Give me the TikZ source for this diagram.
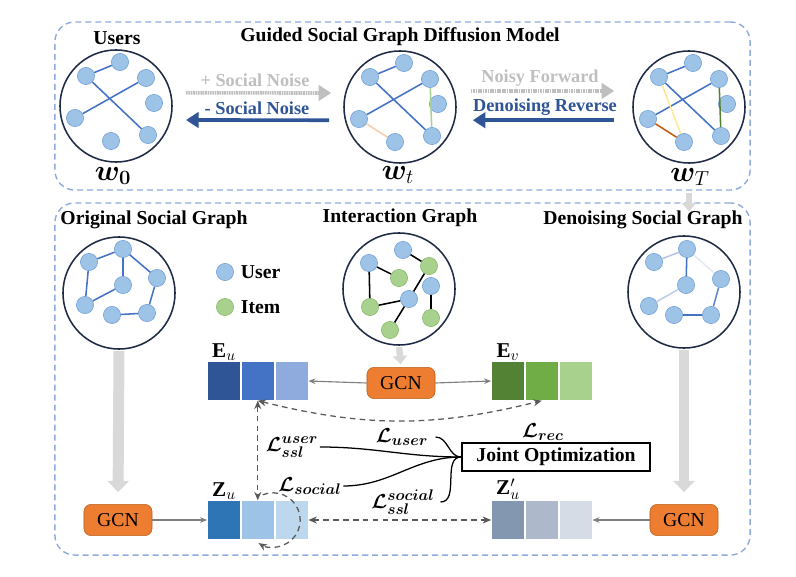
\documentclass[tikz,border=0pt]{standalone}
\usepackage{fontspec}
\setmainfont{Liberation Serif}
\usepackage{amsmath,bm}
\usetikzlibrary{arrows.meta,positioning}

\definecolor{frameblue}{HTML}{8FAADC}
\definecolor{nodeblue}{HTML}{9DC3E6}
\definecolor{nodeblueline}{HTML}{6F9FD8}
\definecolor{nodegreen}{HTML}{A9D18E}
\definecolor{nodegreenline}{HTML}{86B86A}
\definecolor{edgeblue}{HTML}{4472C4}
\definecolor{darkblue}{HTML}{2F5597}
\definecolor{ringnavy}{HTML}{1F2A44}
\definecolor{noisegray}{HTML}{BFBFBF}
\definecolor{gcnorange}{HTML}{ED7D31}
\definecolor{gcnline}{HTML}{B85F1C}
\definecolor{blockgray}{HTML}{D9D9D9}
\definecolor{linkgray}{HTML}{7F7F7F}
\definecolor{dashgray}{HTML}{595959}
\definecolor{eua}{HTML}{2F5597}
\definecolor{eub}{HTML}{4472C4}
\definecolor{euc}{HTML}{8FAADC}
\definecolor{eva}{HTML}{548235}
\definecolor{evb}{HTML}{70AD47}
\definecolor{evc}{HTML}{A9D18E}
\definecolor{zua}{HTML}{2E75B6}
\definecolor{zub}{HTML}{9DC3E6}
\definecolor{zuc}{HTML}{BDD7EE}
\definecolor{zpa}{HTML}{8497B0}
\definecolor{zpb}{HTML}{ADB9CA}
\definecolor{zpc}{HTML}{D6DCE5}
\definecolor{softgreen}{HTML}{A9D18E}
\definecolor{peach}{HTML}{F8CBAD}
\definecolor{deepgreen}{HTML}{548235}
\definecolor{rust}{HTML}{C55A11}
\definecolor{paleyellow}{HTML}{FFE699}

\begin{document}
\begin{tikzpicture}[
    x=0.025cm, y=-0.025cm,
    font=\fontsize{13.5}{16}\selectfont,
    frame/.style={draw=frameblue, line width=1pt, dash pattern=on 4.3pt off 2.8pt,
                  rounded corners=14pt, inner sep=0pt},
    ring/.style={circle, draw=ringnavy, line width=1.1pt, minimum size=2.8cm, inner sep=0pt},
    user/.style={circle, fill=nodeblue, draw=nodeblueline, line width=.4pt,
                 minimum size=.43cm, inner sep=0pt},
    item/.style={user, fill=nodegreen, draw=nodegreenline},
    social/.style={draw=edgeblue, line width=1.1pt},
    inter/.style={draw=black, line width=1.1pt},
    head/.style={font=\fontsize{14}{16}\selectfont\bfseries},
    steplabel/.style={font=\fontsize{13}{15}\selectfont\bfseries},
    wlabel/.style={font=\fontsize{20}{22}\selectfont},
    emb/.style={font=\fontsize{15}{17}\selectfont},
    losslabel/.style={font=\fontsize{15.5}{17}\selectfont, inner sep=1pt},
    gcn/.style={draw=gcnline, fill=gcnorange, rounded corners=5pt, minimum width=1.7cm,
                minimum height=.78cm, inner sep=0pt, font=\fontsize{14}{16}\selectfont},
    cell/.style={minimum width=.83cm, minimum height=.97cm, inner sep=0pt, draw=white, line width=.4pt},
    noise/.style={draw=noisegray, line width=2.6pt, dash pattern=on 1.2pt off .5pt,
                  -{Triangle[length=9pt,width=11pt]}},
    denoise/.style={draw=darkblue, line width=2.6pt, -{Triangle[length=9pt,width=11pt]}},
    feed/.style={draw=blockgray, line width=7.8pt, -{Triangle[length=8pt,width=15pt]}},
    smallfeed/.style={draw=blockgray, line width=4.5pt, -{Triangle[length=6pt,width=10pt]}},
    link/.style={draw=linkgray, line width=.8pt, -{Stealth[length=5pt,width=4pt]}},
    dlink/.style={draw=dashgray, line width=.9pt, dash pattern=on 4pt off 3pt,
                  {Stealth[length=6pt,width=5pt]}-{Stealth[length=6pt,width=5pt]}},
    loss/.style={draw=black, line width=.9pt}
  ]
  \useasboundingbox (0,0) rectangle (796,577);

  % Frames.
  \node[frame, minimum width=17.375cm, minimum height=4.2cm] (topframe) at (402.5,106) {};
  \node[frame, minimum width=17.375cm, minimum height=8.8cm] (botframe) at (402.5,379) {};

  % Diffusion model (top).
  \node[head] (title) at (400,37) {Guided Social Graph Diffusion Model};
  \node[head] (users) at (117,38) {Users};

  \node[ring] (w0) at (116,106) {};
  \node[user] (w0a) at (86,76) {};
  \node[user] (w0b) at (120,62) {};
  \node[user] (w0c) at (146,78) {};
  \node[user] (w0d) at (154,103) {};
  \node[user] (w0e) at (75,118) {};
  \node[user] (w0f) at (111,141) {};
  \node[user] (w0g) at (148,135) {};
  \draw[social] (w0a) -- (w0b);
  \draw[social] (w0a) -- (w0g);
  \draw[social] (w0e) -- (w0c);
  \node[wlabel] (w0lab) at (113,176) {$\bm{w}_{\bm{0}}$};

  \node[ring] (wt) at (400,107) {};
  \node[user] (wta) at (370,77) {};
  \node[user] (wtb) at (404,63) {};
  \node[user] (wtc) at (430,79) {};
  \node[user] (wtd) at (438,104) {};
  \node[user] (wte) at (359,119) {};
  \node[user] (wtf) at (395,142) {};
  \node[user] (wtg) at (432,136) {};
  \draw[social] (wta) -- (wtb);
  \draw[social] (wta) -- (wtg);
  \draw[social] (wte) -- (wtc);
  \draw[social, draw=softgreen] (wtc) -- (wtg);
  \draw[social, draw=peach] (wte) -- (wtf);
  \node[wlabel] (wtlab) at (398,175) {$\bm{w}_t$};

  \node[ring] (wT) at (689,107) {};
  \node[user] (wTa) at (659,77) {};
  \node[user] (wTb) at (693,63) {};
  \node[user] (wTc) at (719,79) {};
  \node[user] (wTd) at (727,104) {};
  \node[user] (wTe) at (648,119) {};
  \node[user] (wTf) at (684,142) {};
  \node[user] (wTg) at (721,136) {};
  \draw[social] (wTa) -- (wTb);
  \draw[social] (wTa) -- (wTg);
  \draw[social] (wTe) -- (wTc);
  \draw[social, draw=paleyellow] (wTa) -- (wTf);
  \draw[social, draw=deepgreen] (wTc) -- (wTg);
  \draw[social, draw=rust] (wTe) -- (wTf);
  \node[wlabel] (wTlab) at (690,177) {$\bm{w}_T$};

  % Forward / reverse steps.
  \node[steplabel, text=noisegray] (addnoise) at (255,80) {+ Social Noise};
  \node[steplabel, text=darkblue] (subnoise) at (257,108) {- Social Noise};
  \draw[noise] ([xshift=.33cm,yshift=.33cm]w0.east) -- ([xshift=-.3cm,yshift=.35cm]wt.west);
  \draw[denoise] ([xshift=-.35cm,yshift=-.33cm]wt.west) -- ([xshift=.33cm,yshift=-.35cm]w0.east);

  \node[steplabel, text=noisegray] (fwd) at (540,78) {Noisy Forward};
  \node[steplabel, text=darkblue] (rev) at (545,107) {Denoising Reverse};
  \draw[noise] ([xshift=.35cm,yshift=.4cm]wt.east) -- ([xshift=-.45cm,yshift=.4cm]wT.west);
  \draw[denoise] ([xshift=-.45cm,yshift=-.33cm]wT.west) -- ([xshift=.4cm,yshift=-.33cm]wt.east);

  \draw[smallfeed] ([yshift=-.05cm]topframe.south -| wT) -- ([yshift=-.23cm]botframe.north -| wT);

  % Graphs (bottom).
  \node[head] (orighd) at (154,220) {Original Social Graph};
  \node[head] (interhd) at (400,218) {Interaction Graph};
  \node[head] (denhd) at (643,220) {Denoising Social Graph};

  \node[ring] (orig) at (119,293) {};
  \node[user] (oa) at (89,262) {};
  \node[user] (ob) at (123,249) {};
  \node[user] (oc) at (123,285) {};
  \node[user] (od) at (157,278) {};
  \node[user] (oe) at (85,305) {};
  \node[user] (of) at (112,315) {};
  \node[user] (og) at (147,313) {};
  \draw[social] (oa) -- (ob);
  \draw[social] (ob) -- (oc);
  \draw[social] (ob) -- (od);
  \draw[social] (oc) -- (oe);
  \draw[social] (oe) -- (oa);
  \draw[social] (od) -- (og);
  \draw[social] (og) -- (of);

  \node[user] (leguser) at (225,272) {};
  \node[head, anchor=west] (legusertxt) at (236,272) {User};
  \node[item] (legitem) at (225,307) {};
  \node[head, anchor=west] (legitemtxt) at (236,307) {Item};

  \node[ring] (inter) at (399,289) {};
  \node[user] (iu1) at (369,263) {};
  \node[user] (iu2) at (403,250) {};
  \node[item] (ii1) at (429,266) {};
  \node[item] (ii2) at (399,278) {};
  \node[user] (iu3) at (431,286) {};
  \node[user] (iu4) at (409,299) {};
  \node[item] (ii3) at (370,307) {};
  \node[item] (ii4) at (431,318) {};
  \node[item] (ii5) at (390,330) {};
  \draw[inter] (iu1) -- (ii2);
  \draw[inter] (iu1) -- (ii3);
  \draw[inter] (iu2) -- (ii1);
  \draw[inter] (ii1) -- (iu4);
  \draw[inter] (iu4) -- (ii3);
  \draw[inter] (iu4) -- (ii5);
  \draw[inter] (iu3) -- (ii4);

  \node[ring] (den) at (684,292) {};
  \node[user] (da) at (654,262) {};
  \node[user] (db) at (687,249) {};
  \node[user] (dc) at (686,285) {};
  \node[user] (dd) at (721,279) {};
  \node[user] (de) at (649,306) {};
  \node[user] (df) at (674,315) {};
  \node[user] (dg) at (711,315) {};
  \draw[social, draw=edgeblue!40] (da) -- (db);
  \draw[social] (db) -- (dc);
  \draw[social, draw=edgeblue!15] (db) -- (dd);
  \draw[social, draw=edgeblue!35] (dc) -- (de);
  \draw[social, draw=edgeblue!85] (dd) -- (dg);
  \draw[social] (dg) -- (df);

  % Embeddings.
  \node[gcn] (gcnm) at (401,383) {GCN};
  \draw[smallfeed, shorten <=1pt, shorten >=2pt] (inter.south) -- (gcnm.north);

  \node[cell, fill=eua] (eu1) at (224,381) {};
  \node[cell, fill=eub, right=0pt of eu1] (eu2) {};
  \node[cell, fill=euc, right=0pt of eu2] (eu3) {};
  \node[emb, above=-3pt of eu1] (eulab) {$\mathbf{E}_u$};

  \node[cell, fill=eva] (ev1) at (508,381) {};
  \node[cell, fill=evb, right=0pt of ev1] (ev2) {};
  \node[cell, fill=evc, right=0pt of ev2] (ev3) {};
  \node[emb, above=-3pt of ev1] (evlab) {$\mathbf{E}_v$};

  \draw[link] (gcnm.west) -- (eu3.east);
  \draw[link] (gcnm.east) -- (ev1.west);

  \node[gcn] (gcnl) at (118,520) {GCN};
  \node[cell, fill=zua] (zu1) at (224,520) {};
  \node[cell, fill=zub, right=0pt of zu1] (zu2) {};
  \node[cell, fill=zuc, right=0pt of zu2] (zu3) {};
  \node[emb, above=-3pt of zu1] (zulab) {$\mathbf{Z}_u$};

  \node[gcn] (gcnr) at (684,520) {GCN};
  \node[cell, fill=zpa] (zp1) at (508,520) {};
  \node[cell, fill=zpb, right=0pt of zp1] (zp2) {};
  \node[cell, fill=zpc, right=0pt of zp2] (zp3) {};
  \node[emb, above=-3pt of zp1] (zplab) {$\mathbf{Z}'_u$};

  \draw[feed, shorten <=1pt, shorten >=.3cm] (orig.south) -- (gcnl.north);
  \draw[feed, shorten <=1pt, shorten >=.3cm] (den.south) -- (gcnr.north);
  \draw[link] (gcnl.east) -- (zu1.west);
  \draw[link] (gcnr.west) -- (zp3.east);

  % Contrastive / recommendation links.
  \draw[dlink] (eu2.south) to[bend right=14] (ev2.south);
  \draw[dlink] (eu2.south) -- (zu2.north);
  \draw[dlink] (zu3.east) -- (zp1.west);
  \coordinate (zuloop) at (273,520);
  \draw[draw=dashgray, line width=.9pt, dash pattern=on 4pt off 3pt, -{Stealth[length=6pt,width=5pt]}]
    ([shift={(112:.68cm)}]zuloop) arc[start angle=112, end angle=-122, radius=.68cm];

  % Losses.
  \node[draw=black, line width=1.2pt, fill=white, minimum width=4.7cm, minimum height=.7cm,
        head] (joint) at (556,457) {Joint Optimization};
  \node[losslabel] (lrec) at (543,432) {$\bm{\mathcal{L}_{rec}}$};
  \node[losslabel] (lsslu) at (292,447) {$\bm{\mathcal{L}_{ssl}^{user}}$};
  \node[losslabel] (luser) at (402,437) {$\bm{\mathcal{L}_{user}}$};
  \node[losslabel] (lsoc) at (310,486) {$\bm{\mathcal{L}_{social}}$};
  \node[losslabel] (lssls) at (403,502) {$\bm{\mathcal{L}_{ssl}^{social}}$};
  \draw[loss] (lsslu.east) to[out=0, in=180] (joint.west);
  \draw[loss] ([xshift=4pt]luser.east) to[out=0, in=180] (joint.west);
  \draw[loss] (lsoc.east) to[out=0, in=180] (joint.west);
  \draw[loss] ([xshift=3pt]lssls.east) to[out=0, in=180] (joint.west);
\end{tikzpicture}
\end{document}
